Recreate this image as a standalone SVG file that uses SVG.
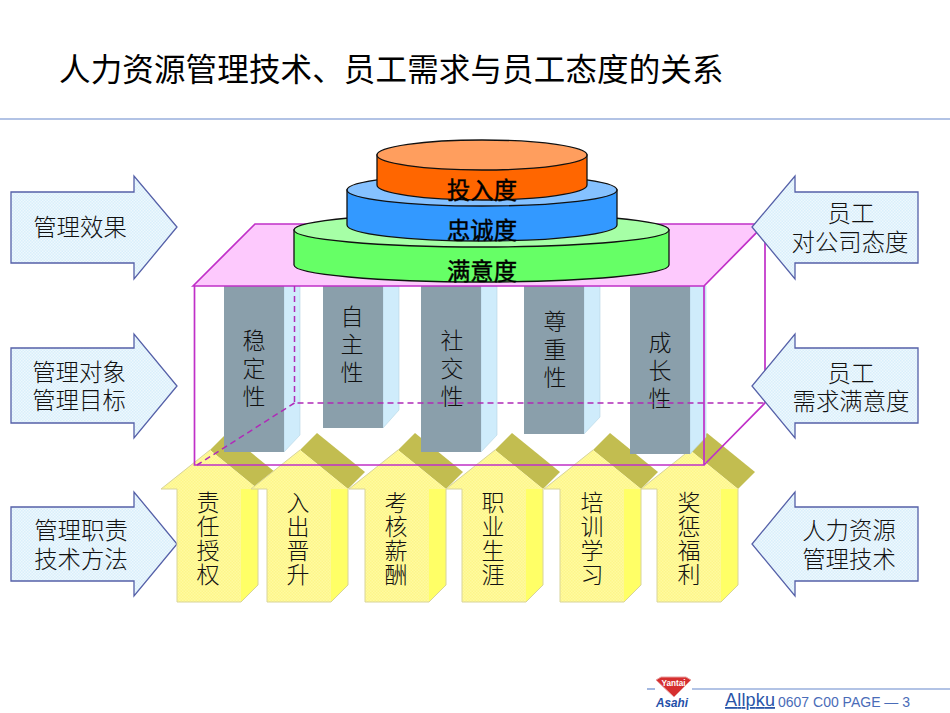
<svg xmlns="http://www.w3.org/2000/svg" width="950" height="713" viewBox="0 0 950 713">
<style>
text{font-family:"Noto Sans CJK SC","Liberation Sans",sans-serif;fill:#111;font-size:23.400px;text-anchor:middle;font-weight:300}
.title{font-size:31.500px;text-anchor:start;fill:#000;letter-spacing:.15px;font-weight:400}
.v{writing-mode:vertical-rl;text-orientation:upright;text-anchor:start;font-size:23px;letter-spacing:1px}
.vp{writing-mode:vertical-rl;text-orientation:upright;text-anchor:start;font-size:23px;letter-spacing:5px}
.blue{fill:url(#bluedots);stroke:#5560a8;stroke-width:1.300}
.y1{fill:url(#yeldots)}
.ye{fill:none;stroke:#d8d49a;stroke-width:1}
.y2{fill:#ffff66}
.yd{fill:#c2bd50}
.pf{fill:#8a9fab}
.ps{fill:#cfecfb;stroke:#b5d5e3;stroke-width:.6}
.box{fill:none;stroke:#c030c8;stroke-width:1.700}
.dash{fill:none;stroke:#b02ab8;stroke-width:1.500;stroke-dasharray:6 4}
.line{stroke:#6688cc;stroke-width:1.200}
.d{stroke:#111;stroke-width:1.300}
.b{font-weight:400;font-size:23.300px;fill:#000;stroke:#000;stroke-width:.45px}
.foot{font-family:"Liberation Sans",sans-serif;font-size:14px;fill:#4a6cb8;text-anchor:start;font-weight:400}
</style>
<defs>
<pattern id="bluedots" width="3" height="3" patternUnits="userSpaceOnUse"><rect width="3" height="3" fill="#eef8fd"/><rect width="1.500" height="1.500" fill="#d9effb"/><rect x="1.500" y="1.500" width="1.500" height="1.500" fill="#d9effb"/></pattern>
<pattern id="yeldots" width="3" height="3" patternUnits="userSpaceOnUse"><rect width="3" height="3" fill="#fffaa0"/><rect width="1.500" height="1.500" fill="#fdf68a"/><rect x="1.500" y="1.500" width="1.500" height="1.500" fill="#fdf68a"/></pattern>
<g id="ya"><path class="yd" d="M49 17 66 0 114 39 97 56Z"/><path class="y2" d="M80 56H97V152L80 169Z"/><path class="y1" d="M0 56 49 17 97 56H80V169H16V56Z"/><path class="ye" d="M0 56 49 17M16 56H0M16 56V169H80L97 152V56"/></g>
</defs>
<g id="title"><text class="title" x="59" y="81">人力资源管理技术、员工需求与员工态度的关系</text><line class="line" x1="0" y1="119" x2="950" y2="119"/></g>
<g id="arrow-effect"><path class="blue" d="M11 192H134V176L177 227 134 279V263H11Z"/><text x="80" y="236">管理效果</text></g>
<g id="arrow-object"><path class="blue" d="M11 348H134V334L177 386 134 438V423H11Z"/><text x="79" y="381">管理对象</text><text x="79" y="409">管理目标</text></g>
<g id="arrow-duty"><path class="blue" d="M11 507H134V492L177 544 134 596V581H11Z"/><text x="81" y="539">管理职责</text><text x="81" y="568">技术方法</text></g>
<g id="hr-arrows">
<g id="h1"><use href="#ya" x="161" y="433"/></g>
<g id="h2"><use href="#ya" x="251" y="433"/></g>
<g id="h3"><use href="#ya" x="349" y="433"/></g>
<g id="h4"><use href="#ya" x="446" y="433"/></g>
<g id="h5"><use href="#ya" x="544" y="433"/></g>
<g id="h6"><use href="#ya" x="641" y="433"/></g>
<text class="v" x="208" y="491">责任授权</text>
<text class="v" x="298" y="491">入出晋升</text>
<text class="v" x="396" y="491">考核薪酬</text>
<text class="v" x="493" y="491">职业生涯</text>
<text class="v" x="592" y="491">培训学习</text>
<text class="v" x="689" y="491">奖惩福利</text>
</g>
<g id="pillars">
<g id="p1"><path class="ps" d="M284 286H300V435L284 452Z"/><rect class="pf" x="224" y="286" width="60" height="166"/><text class="vp" x="254" y="329">稳定性</text></g>
<g id="p2"><path class="ps" d="M383 286H399V410L383 428Z"/><rect class="pf" x="323" y="286" width="60" height="142"/><text class="vp" x="352" y="305">自主性</text></g>
<g id="p3"><path class="ps" d="M481 286H497V435L481 452Z"/><rect class="pf" x="421" y="286" width="60" height="166"/><text class="vp" x="452" y="329">社交性</text></g>
<g id="p4"><path class="ps" d="M584 286H600V417L584 434Z"/><rect class="pf" x="524" y="286" width="60" height="148"/><text class="vp" x="555" y="310">尊重性</text></g>
<g id="p5"><path class="ps" d="M690 286H706V437L690 454Z"/><rect class="pf" x="630" y="286" width="60" height="168"/><text class="vp" x="660" y="331">成长性</text></g>
</g>
<g id="frame">
<path d="M193 286 255 224H765L704 286Z" fill="#fdc9fd" stroke="#c030c8" stroke-width="1.700"/>
<path class="box" d="M194.500 286V465H704V286M704 465 765 403V224"/>
<path class="dash" d="M294.500 286V403H765M294.500 403 197 465"/>
</g>
<g id="disc-satisfaction"><path class="d" fill="#66ff66" d="M294 230V265A187.500 17 0 0 0 669 265V230Z"/><ellipse class="d" cx="481.500" cy="230" rx="187.500" ry="17" fill="#a6ffa6"/><text class="b" x="482" y="280">满意度</text></g>
<g id="disc-loyalty"><path class="d" fill="#3399ff" d="M347 190V225A135 16 0 0 0 617 225V190Z"/><ellipse class="d" cx="482" cy="190" rx="135" ry="16" fill="#85c1ff"/><text class="b" x="482" y="239">忠诚度</text></g>
<g id="disc-input"><path class="d" fill="#ff6600" d="M377 155V185A105 15 0 0 0 587 185V155Z"/><ellipse class="d" cx="482" cy="155" rx="105" ry="15" fill="#ff9e5e"/><text class="b" x="482" y="199">投入度</text></g>
<g id="arrow-attitude"><path class="blue" d="M918 192H795V176L752 227 795 279V263H918Z"/><text x="851" y="222">员工</text><text x="850" y="251">对公司态度</text></g>
<g id="arrow-need"><path class="blue" d="M918 348H795V334L752 386 795 438V423H918Z"/><text x="851" y="382">员工</text><text x="851" y="410">需求满意度</text></g>
<g id="arrow-tech"><path class="blue" d="M918 507H795V492L752 544 795 596V581H918Z"/><text x="849" y="539">人力资源</text><text x="849" y="568">管理技术</text></g>
<g id="footer">
<line class="line" x1="647" y1="689" x2="655" y2="689"/><line class="line" x1="692" y1="689" x2="950" y2="689"/>
<path d="M656 680 661 677H686L691 680 674 697Z" fill="#d62f2f" stroke="#e8a0a0" stroke-width="1"/>
<text x="673.500" y="686" textLength="24" lengthAdjust="spacingAndGlyphs" style="font-family:'Liberation Sans',sans-serif;font-size:9px;font-weight:700;fill:#fff">Yantai</text>
<text x="672" y="707" textLength="32" lengthAdjust="spacingAndGlyphs" style="font-family:'Liberation Sans',sans-serif;font-size:13px;font-weight:700;font-style:italic;fill:#1f4fa8">Asahi</text>
<text x="725" y="706" textLength="50" style="font-family:'Liberation Sans',sans-serif;font-size:18px;font-weight:400;fill:#2a55a8;text-anchor:start;text-decoration:underline">Allpku</text>
<text class="foot" x="778" y="707">0607 C00 PAGE — 3</text>
</g>
</svg>
